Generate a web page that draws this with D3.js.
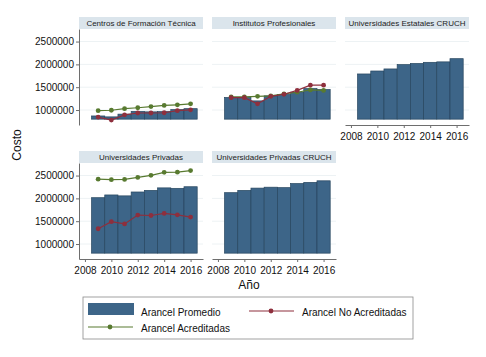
<!DOCTYPE html>
<html>
<head>
<meta charset="utf-8">
<script src="https://cdn.jsdelivr.net/npm/d3@7"></script>
<style>
  body { margin: 0; background: #fff; }
  svg { font-family: "Liberation Sans", Arial, sans-serif; }
</style>
</head>
<body>
<div id="chart"></div>
<script>
const years = [2009, 2010, 2011, 2012, 2013, 2014, 2015, 2016]
const xTicks = [2008, 2010, 2012, 2014, 2016]
const yTicks = [1000000, 1500000, 2000000, 2500000]
const barBase = 800000

const panelTitles = [
  "Centros de Formación Técnica",
  "Institutos Profesionales",
  "Universidades Estatales CRUCH",
  "Universidades Privadas",
  "Universidades Privadas CRUCH"
]

// Arancel Promedio
const promedioCFT = [870000, 850000, 910000, 970000, 960000, 965000, 1010000, 1030000]
const promedioIP = [1275000, 1275000, 1200000, 1310000, 1340000, 1390000, 1470000, 1450000]
const promedioUE = [1790000, 1855000, 1900000, 1995000, 2020000, 2045000, 2055000, 2125000]
const promedioUP = [2015000, 2075000, 2055000, 2140000, 2175000, 2230000, 2220000, 2255000]
const promedioUPC = [2125000, 2175000, 2225000, 2245000, 2235000, 2325000, 2350000, 2385000]

// Arancel Acreditadas
const acreditadasCFT = [985000, 995000, 1030000, 1050000, 1075000, 1100000, 1115000, 1135000]
const acreditadasIP = [1290000, 1290000, 1300000, 1310000, 1355000, 1390000, 1440000, 1430000]
const acreditadasUP = [2420000, 2410000, 2415000, 2460000, 2505000, 2570000, 2575000, 2610000]

// Arancel No Acreditadas
const noAcreditadasCFT = [845000, 780000, 895000, 935000, 935000, 940000, 985000, 1005000]
const noAcreditadasIP = [1270000, 1270000, 1135000, 1300000, 1345000, 1430000, 1545000, 1545000]
const noAcreditadasUP = [1335000, 1490000, 1440000, 1635000, 1625000, 1670000, 1640000, 1590000]

const legendLabels = ["Arancel Promedio", "Arancel No Acreditadas", "Arancel Acreditadas"]

const colors = {
  bar: "#3d6588",
  barStroke: "#27465f",
  red: "#8e2f3d",
  green: "#587a30",
  band: "#dbe5ec",
  grid: "#edf2f4",
  axis: "#6e6e6e"
}

const panels = [
  { title: panelTitles[0], bars: promedioCFT, green: acreditadasCFT, red: noAcreditadasCFT, col: 0, row: 0, yAxis: true, xAxis: false },
  { title: panelTitles[1], bars: promedioIP, green: acreditadasIP, red: noAcreditadasIP, col: 1, row: 0, yAxis: false, xAxis: false },
  { title: panelTitles[2], bars: promedioUE, col: 2, row: 0, yAxis: false, xAxis: true },
  { title: panelTitles[3], bars: promedioUP, green: acreditadasUP, red: noAcreditadasUP, col: 0, row: 1, yAxis: true, xAxis: true },
  { title: panelTitles[4], bars: promedioUPC, col: 1, row: 1, yAxis: false, xAxis: true }
]

const width = 486
const height = 357
const colLeft = [79, 212, 345]
const rowTop = [17, 151]
const panelW = 124
const bandH = 12
const plotH = 96

const svg = d3.select("#chart").append("svg")
  .attr("width", width)
  .attr("height", height)

const x = d3.scaleLinear().domain([2007.55, 2016.94]).range([0, panelW])
const y = d3.scaleLinear().domain([672000, 2775000]).range([plotH, 0])
const barW = x(2009.5) - x(2008.5)

panels.forEach(p => {
  const g = svg.append("g")
    .attr("transform", `translate(${colLeft[p.col]}, ${rowTop[p.row]})`)

  g.append("rect")
    .attr("width", panelW)
    .attr("height", bandH)
    .attr("fill", colors.band)

  g.append("text")
    .attr("x", panelW / 2)
    .attr("y", bandH / 2)
    .attr("dy", "0.35em")
    .attr("text-anchor", "middle")
    .style("font-size", "8px")
    .attr("fill", "#222")
    .text(p.title)

  const plot = g.append("g").attr("transform", `translate(0, ${bandH})`)

  plot.selectAll("line.grid")
    .data(yTicks)
    .join("line")
    .attr("class", "grid")
    .attr("x1", 0)
    .attr("x2", panelW)
    .attr("y1", d => y(d))
    .attr("y2", d => y(d))
    .attr("stroke", colors.grid)
    .attr("stroke-width", 1)

  plot.selectAll("rect.bar")
    .data(p.bars)
    .join("rect")
    .attr("class", "bar")
    .attr("x", (d, i) => x(years[i] - 0.5))
    .attr("width", barW)
    .attr("y", d => y(d))
    .attr("height", d => y(barBase) - y(d))
    .attr("fill", colors.bar)
    .attr("stroke", colors.barStroke)
    .attr("stroke-width", 0.7)

  const line = d3.line()
    .x((d, i) => x(years[i]))
    .y(d => y(d))

  const series = [[p.green, colors.green], [p.red, colors.red]]
  series.forEach(([vals, color]) => {
    if (!vals) return
    plot.append("path")
      .datum(vals)
      .attr("d", line)
      .attr("fill", "none")
      .attr("stroke", color)
      .attr("stroke-width", 1.2)
    plot.selectAll(null)
      .data(vals)
      .join("circle")
      .attr("cx", (d, i) => x(years[i]))
      .attr("cy", d => y(d))
      .attr("r", 2.4)
      .attr("fill", color)
  })

  if (p.yAxis) {
    const ax = plot.append("g")
      .call(d3.axisLeft(y).tickValues(yTicks).tickFormat(d3.format("d")).tickSize(3).tickSizeOuter(0).tickPadding(2))
    ax.select(".domain").attr("stroke", colors.axis)
    ax.selectAll(".tick line").attr("stroke", colors.axis)
    ax.selectAll("text").style("font-size", "10px").attr("fill", "#111")
  }

  if (p.xAxis) {
    const ax = plot.append("g")
      .attr("transform", `translate(0, ${plotH})`)
      .call(d3.axisBottom(x).tickValues(xTicks).tickFormat(d3.format("d")).tickSize(3).tickSizeOuter(0).tickPadding(5))
    ax.select(".domain").attr("stroke", colors.axis)
    ax.selectAll(".tick line").attr("stroke", colors.axis)
    ax.selectAll("text").style("font-size", "10px").attr("fill", "#111")
  }
})

svg.append("text")
  .attr("transform", "translate(21, 145) rotate(-90)")
  .attr("text-anchor", "middle")
  .style("font-size", "12px")
  .attr("fill", "#111")
  .text("Costo")

svg.append("text")
  .attr("x", 249)
  .attr("y", 289)
  .attr("text-anchor", "middle")
  .style("font-size", "12px")
  .attr("fill", "#111")
  .text("Año")

// legend
const legend = svg.append("g").attr("transform", "translate(83, 297)")
legend.append("rect")
  .attr("width", 330)
  .attr("height", 42)
  .attr("fill", "#fff")
  .attr("stroke", "#8a8a8a")
  .attr("stroke-width", 0.8)

legend.append("rect")
  .attr("x", 5).attr("y", 6)
  .attr("width", 46).attr("height", 12)
  .attr("fill", colors.bar)

const legendLines = [
  { x: 166, y: 14, color: colors.red },
  { x: 5, y: 30, color: colors.green }
]
legendLines.forEach(l => {
  legend.append("line")
    .attr("x1", l.x).attr("x2", l.x + 45)
    .attr("y1", l.y).attr("y2", l.y)
    .attr("stroke", l.color)
    .attr("stroke-width", 1.2)
  legend.append("circle")
    .attr("cx", l.x + 22).attr("cy", l.y)
    .attr("r", 2.4)
    .attr("fill", l.color)
})

const legendText = [
  { x: 58, y: 15 },
  { x: 219, y: 15 },
  { x: 58, y: 31 }
]
legend.selectAll("text.lbl")
  .data(legendLabels)
  .join("text")
  .attr("class", "lbl")
  .attr("x", (d, i) => legendText[i].x)
  .attr("y", (d, i) => legendText[i].y)
  .attr("dy", "0.35em")
  .style("font-size", "10px")
  .attr("fill", "#111")
  .text(d => d)
</script>
</body>
</html>
